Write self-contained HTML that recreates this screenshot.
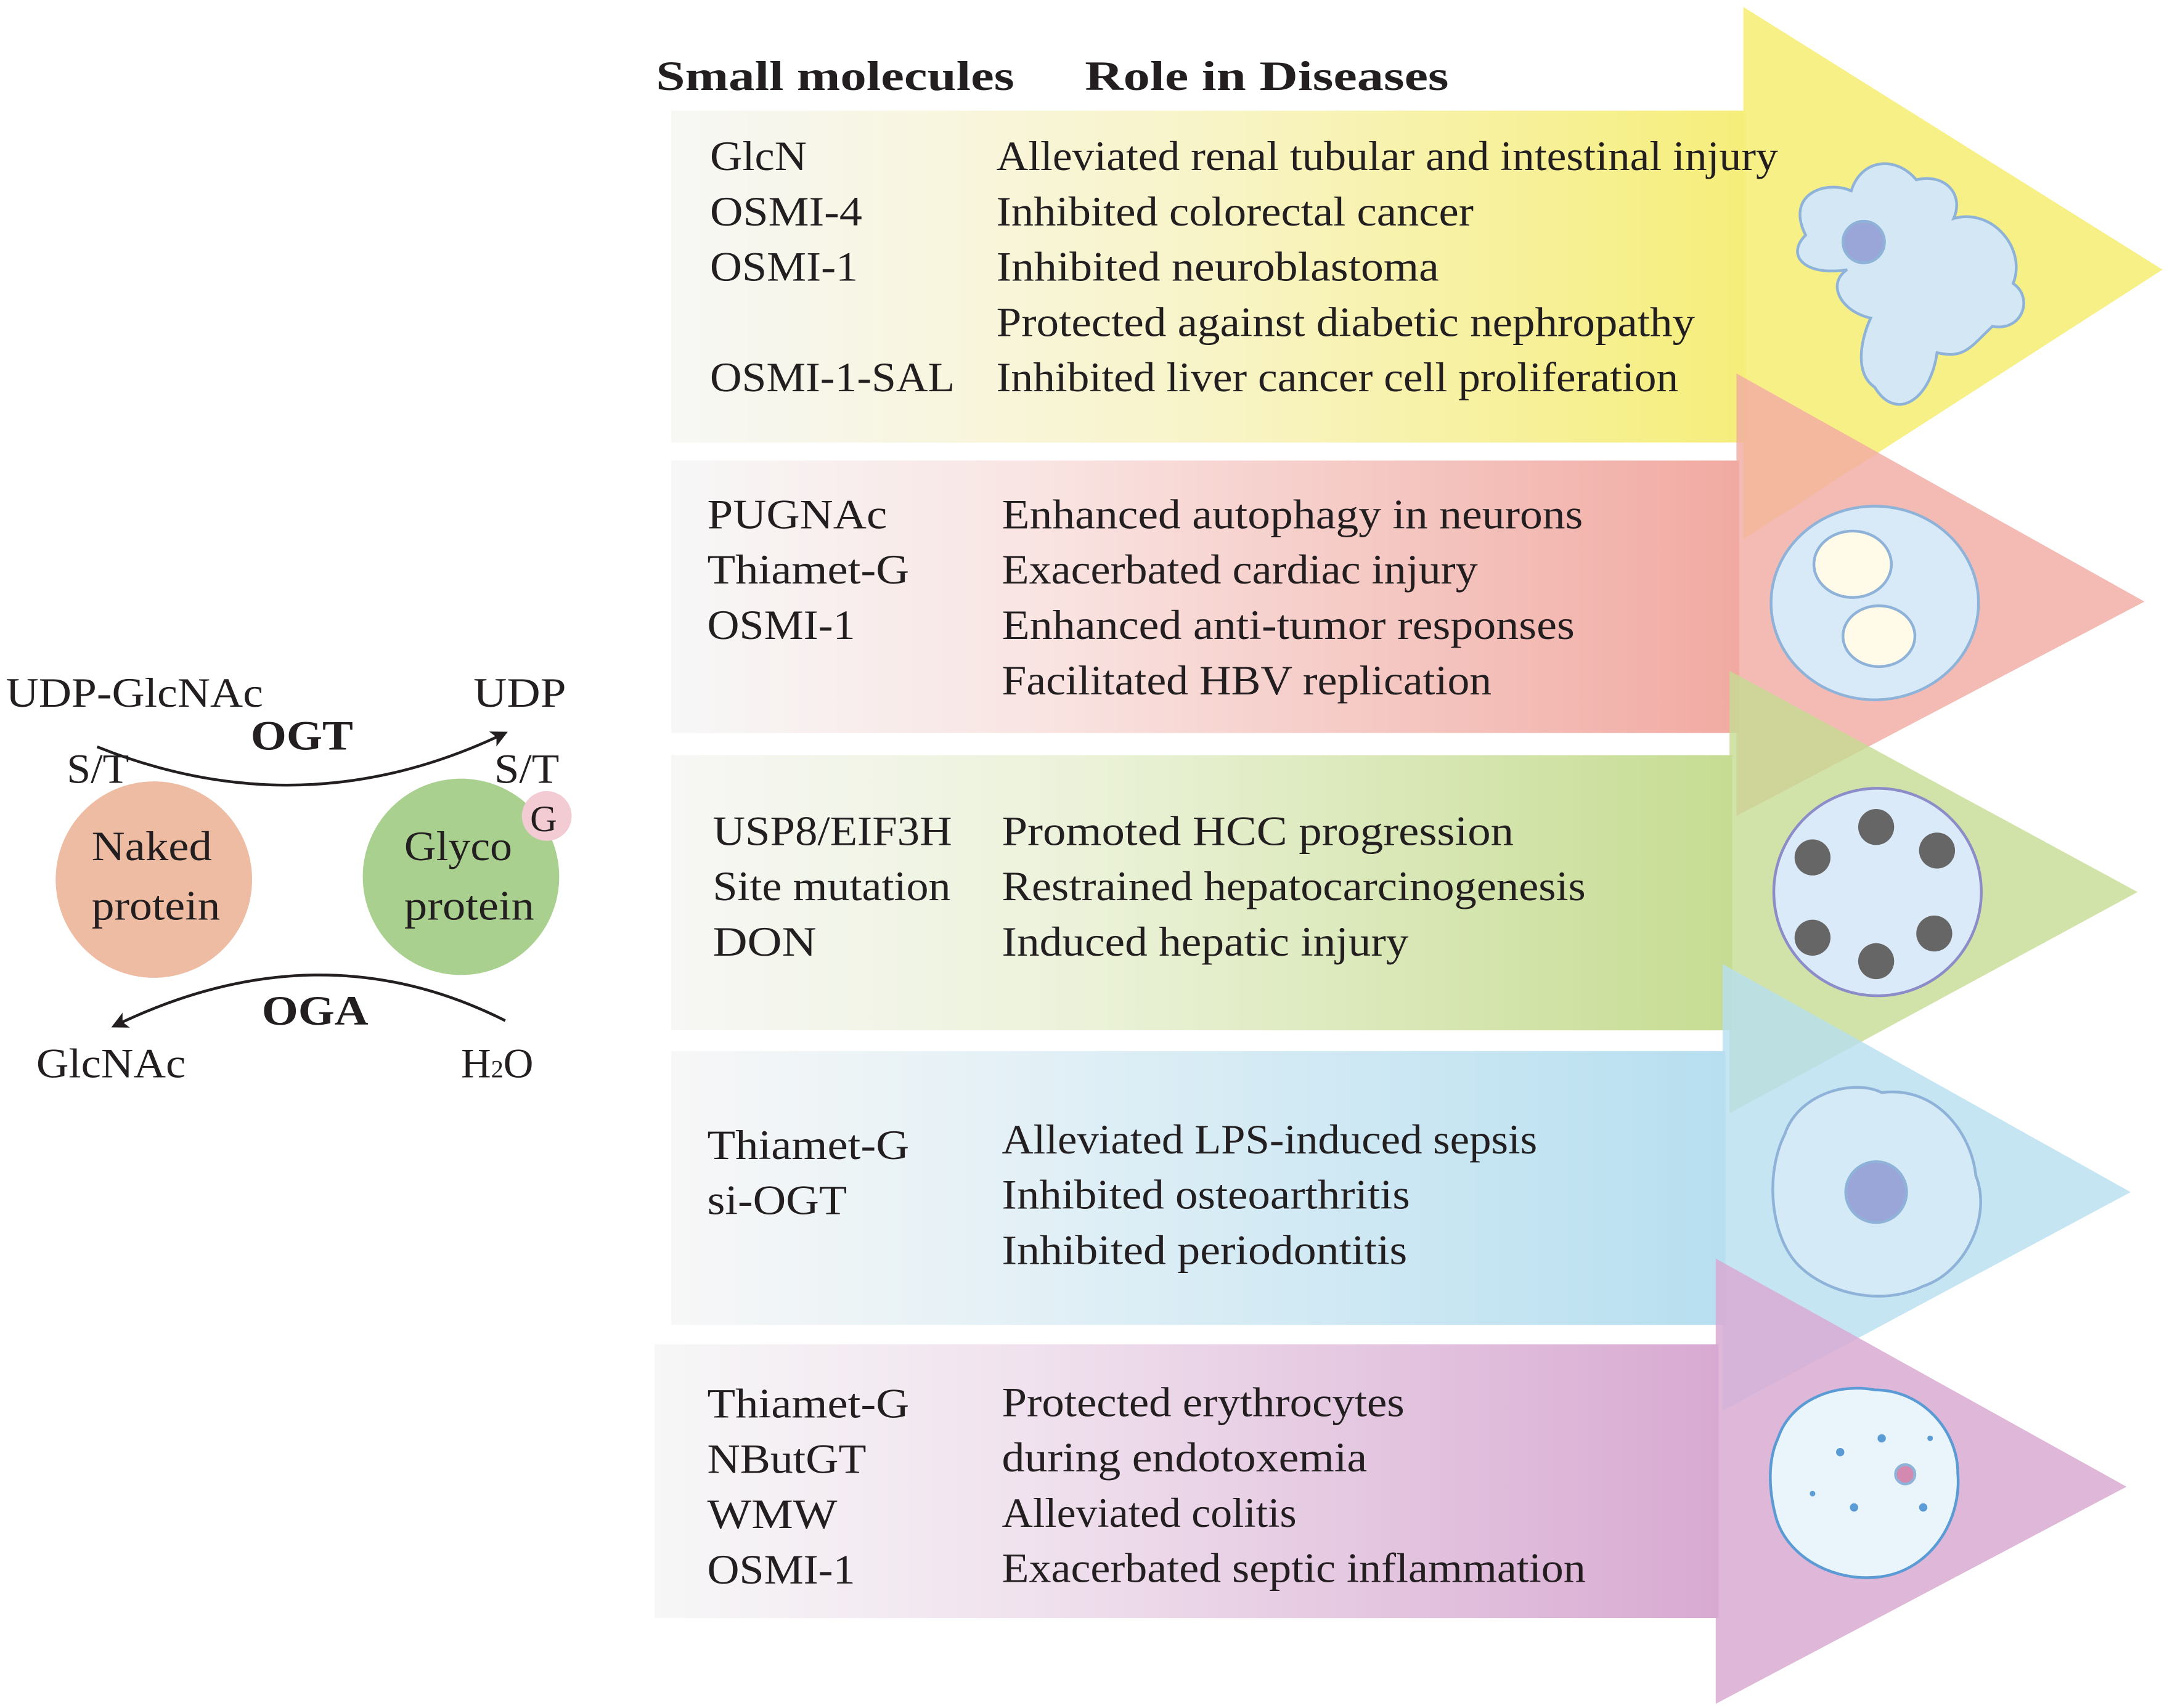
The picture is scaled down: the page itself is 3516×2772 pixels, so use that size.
<!DOCTYPE html>
<html><head><meta charset="utf-8"><style>
html,body{margin:0;padding:0;background:#fff;}
svg{display:block;}
text{font-family:"Liberation Serif",serif;fill:#231f20;}
</style></head><body>
<svg width="3516" height="2772" viewBox="0 0 1566 1235" xmlns="http://www.w3.org/2000/svg">
<defs>
<linearGradient id="gy" x1="0" x2="1"><stop offset="0" stop-color="#f7f7f5"/><stop offset="0.5" stop-color="#f8f4c8"/><stop offset="1" stop-color="#f6ee7a"/></linearGradient>
<linearGradient id="gr" x1="0" x2="1"><stop offset="0" stop-color="#f7f7f7"/><stop offset="0.35" stop-color="#f9e4e2"/><stop offset="1" stop-color="#f1aaa2"/></linearGradient>
<linearGradient id="gg" x1="0" x2="1"><stop offset="0" stop-color="#f7f7f5"/><stop offset="0.4" stop-color="#ebf2d8"/><stop offset="1" stop-color="#c6dc92"/></linearGradient>
<linearGradient id="gb" x1="0" x2="1"><stop offset="0" stop-color="#f7f7f7"/><stop offset="0.35" stop-color="#e2f0f6"/><stop offset="1" stop-color="#b7dff0"/></linearGradient>
<linearGradient id="gp" x1="0" x2="1"><stop offset="0" stop-color="#f7f7f7"/><stop offset="0.35" stop-color="#f0e2ee"/><stop offset="1" stop-color="#d8aad2"/></linearGradient>
<marker id="ah" markerWidth="12" markerHeight="12" refX="10" refY="6" orient="auto" markerUnits="userSpaceOnUse"><path d="M0,0 L12,6 L0,12 L3,6 Z" fill="#231f20"/></marker>
</defs>

<rect x="485" y="80" width="777" height="240" fill="url(#gy)"/>
<rect x="485" y="333" width="772" height="197" fill="url(#gr)"/>
<rect x="485" y="546" width="767" height="199" fill="url(#gg)"/>
<rect x="485" y="760" width="762" height="198" fill="url(#gb)"/>
<rect x="473" y="972" width="769" height="198" fill="url(#gp)"/>
<polygon points="1260,5 1563,195 1260,390" fill="#f6ee7a" opacity="0.9"/>
<polygon points="1255,270 1550,435 1255,590" fill="#f1aaa2" opacity="0.8"/>
<polygon points="1250,485 1545,645 1250,805" fill="#c6dc92" opacity="0.8"/>
<polygon points="1245,697 1540,862 1245,1020" fill="#b7dff0" opacity="0.8"/>
<polygon points="1240,910 1537,1075 1240,1232" fill="#d8aad2" opacity="0.85"/>

<!-- cells -->
<g stroke="#8fb3d8" stroke-width="2">
<path d="M1305,170 C1290,140 1320,130 1338,138 C1345,115 1370,112 1385,130 C1405,125 1420,140 1412,158 C1440,150 1465,180 1455,205 C1470,215 1462,240 1440,236 C1425,250 1420,260 1400,255 C1395,290 1370,305 1355,280 C1340,270 1345,245 1352,230 C1330,225 1320,205 1335,195 C1305,200 1290,185 1305,170 Z" fill="#d4e7f5"/>
<circle cx="1347" cy="175" r="15" fill="#9aa6d8"/>
<ellipse cx="1355" cy="436" rx="75" ry="70" fill="#d8eaf7"/>
<ellipse cx="1339" cy="408" rx="28" ry="24" fill="#fffbe8"/>
<ellipse cx="1358" cy="460" rx="26" ry="22" fill="#fffbe8"/>
<circle cx="1357" cy="645" r="75" fill="#dbeaf8" stroke="#8c8cc8"/>
<path d="M1290,820 C1300,790 1340,780 1360,790 C1400,785 1425,820 1428,850 C1440,880 1420,920 1390,930 C1360,945 1320,935 1300,915 C1280,895 1275,850 1290,820 Z" fill="#d4eaf6"/>
<circle cx="1356" cy="862" r="22" fill="#9aa6d8"/>
<path d="M1285,1040 C1295,1010 1330,1000 1355,1005 C1390,1005 1415,1035 1415,1065 C1418,1100 1395,1135 1360,1140 C1325,1145 1290,1125 1283,1095 C1278,1075 1278,1055 1285,1040 Z" fill="#eaf5fb" stroke="#5b9bd5"/>
<circle cx="1377" cy="1066" r="7" fill="#d48ab0"/>
</g>
<g fill="#5b9bd5"><circle cx="1330" cy="1050" r="3"/><circle cx="1360" cy="1040" r="3"/><circle cx="1340" cy="1090" r="3"/><circle cx="1390" cy="1090" r="3"/><circle cx="1310" cy="1080" r="2"/><circle cx="1395" cy="1040" r="2"/></g>
<g fill="#666">
<circle cx="1310" cy="620" r="13"/><circle cx="1356" cy="598" r="13"/><circle cx="1400" cy="615" r="13"/>
<circle cx="1310" cy="678" r="13"/><circle cx="1356" cy="695" r="13"/><circle cx="1398" cy="675" r="13"/>
</g>

<g font-weight="bold" font-size="30" lengthAdjust="spacingAndGlyphs">
<text x="474" y="65" textLength="259" lengthAdjust="spacingAndGlyphs">Small molecules</text>
<text x="784" y="65" textLength="263" lengthAdjust="spacingAndGlyphs">Role in Diseases</text>
</g>

<g font-size="30">
<text x="513" y="123" textLength="70" lengthAdjust="spacingAndGlyphs">GlcN</text><text x="720" y="123" textLength="565" lengthAdjust="spacingAndGlyphs">Alleviated renal tubular and intestinal injury</text>
<text x="513" y="163" textLength="110" lengthAdjust="spacingAndGlyphs">OSMI-4</text><text x="720" y="163" textLength="345" lengthAdjust="spacingAndGlyphs">Inhibited colorectal cancer</text>
<text x="513" y="203" textLength="107" lengthAdjust="spacingAndGlyphs">OSMI-1</text><text x="720" y="203" textLength="320" lengthAdjust="spacingAndGlyphs">Inhibited neuroblastoma</text>
<text x="720" y="243" textLength="505" lengthAdjust="spacingAndGlyphs">Protected against diabetic nephropathy</text>
<text x="513" y="283" textLength="177" lengthAdjust="spacingAndGlyphs">OSMI-1-SAL</text><text x="720" y="283" textLength="493" lengthAdjust="spacingAndGlyphs">Inhibited liver cancer cell proliferation</text>

<text x="511" y="382" textLength="130" lengthAdjust="spacingAndGlyphs">PUGNAc</text><text x="724" y="382" textLength="420" lengthAdjust="spacingAndGlyphs">Enhanced autophagy in neurons</text>
<text x="511" y="422" textLength="146" lengthAdjust="spacingAndGlyphs">Thiamet-G</text><text x="724" y="422" textLength="344" lengthAdjust="spacingAndGlyphs">Exacerbated cardiac injury</text>
<text x="511" y="462" textLength="107" lengthAdjust="spacingAndGlyphs">OSMI-1</text><text x="724" y="462" textLength="414" lengthAdjust="spacingAndGlyphs">Enhanced anti-tumor responses</text>
<text x="724" y="502" textLength="354" lengthAdjust="spacingAndGlyphs">Facilitated HBV replication</text>

<text x="515" y="611" textLength="173" lengthAdjust="spacingAndGlyphs">USP8/EIF3H</text><text x="724" y="611" textLength="370" lengthAdjust="spacingAndGlyphs">Promoted HCC progression</text>
<text x="515" y="651" textLength="172" lengthAdjust="spacingAndGlyphs">Site mutation</text><text x="724" y="651" textLength="422" lengthAdjust="spacingAndGlyphs">Restrained hepatocarcinogenesis</text>
<text x="515" y="691" textLength="75" lengthAdjust="spacingAndGlyphs">DON</text><text x="724" y="691" textLength="294" lengthAdjust="spacingAndGlyphs">Induced hepatic injury</text>

<text x="511" y="838" textLength="146" lengthAdjust="spacingAndGlyphs">Thiamet-G</text><text x="724" y="834" textLength="387" lengthAdjust="spacingAndGlyphs">Alleviated LPS-induced sepsis</text>
<text x="511" y="878" textLength="101" lengthAdjust="spacingAndGlyphs">si-OGT</text><text x="724" y="874" textLength="295" lengthAdjust="spacingAndGlyphs">Inhibited osteoarthritis</text>
<text x="724" y="914" textLength="293" lengthAdjust="spacingAndGlyphs">Inhibited periodontitis</text>

<text x="511" y="1025" textLength="146" lengthAdjust="spacingAndGlyphs">Thiamet-G</text><text x="724" y="1024" textLength="291" lengthAdjust="spacingAndGlyphs">Protected erythrocytes</text>
<text x="511" y="1065" textLength="115" lengthAdjust="spacingAndGlyphs">NButGT</text><text x="724" y="1064" textLength="264" lengthAdjust="spacingAndGlyphs">during endotoxemia</text>
<text x="511" y="1105" textLength="94" lengthAdjust="spacingAndGlyphs">WMW</text><text x="724" y="1104" textLength="213" lengthAdjust="spacingAndGlyphs">Alleviated colitis</text>
<text x="511" y="1145" textLength="107" lengthAdjust="spacingAndGlyphs">OSMI-1</text><text x="724" y="1144" textLength="422" lengthAdjust="spacingAndGlyphs">Exacerbated septic inflammation</text>
</g>

<circle cx="111" cy="636" r="71" fill="#eebca2"/>
<circle cx="333" cy="634" r="71" fill="#a9d08e"/>
<circle cx="395" cy="590" r="18" fill="#f2cbd3"/>
<path d="M70,540 Q220,600 365,530" fill="none" stroke="#231f20" stroke-width="2" marker-end="url(#ah)"/>
<path d="M365,738 Q230,670 82,742" fill="none" stroke="#231f20" stroke-width="2" marker-end="url(#ah)"/>
<g font-size="30">
<text x="4" y="511" textLength="186" lengthAdjust="spacingAndGlyphs">UDP-GlcNAc</text>
<text x="342" y="511" textLength="67" lengthAdjust="spacingAndGlyphs">UDP</text>
<text x="48" y="566" textLength="45" lengthAdjust="spacingAndGlyphs">S/T</text>
<text x="357" y="566" textLength="47" lengthAdjust="spacingAndGlyphs">S/T</text>
<text x="181" y="542" font-weight="bold" textLength="74" lengthAdjust="spacingAndGlyphs">OGT</text>
<text x="383" y="601" font-size="27">G</text>
<text x="66" y="622" textLength="87" lengthAdjust="spacingAndGlyphs">Naked</text>
<text x="66" y="665" textLength="93" lengthAdjust="spacingAndGlyphs">protein</text>
<text x="292" y="622" textLength="78" lengthAdjust="spacingAndGlyphs">Glyco</text>
<text x="292" y="665" textLength="94" lengthAdjust="spacingAndGlyphs">protein</text>
<text x="189" y="741" font-weight="bold" textLength="77" lengthAdjust="spacingAndGlyphs">OGA</text>
<text x="26" y="779" textLength="108" lengthAdjust="spacingAndGlyphs">GlcNAc</text>
<text x="333" y="779">H<tspan font-size="18">2</tspan>O</text>
</g>
</svg>
</body></html>
